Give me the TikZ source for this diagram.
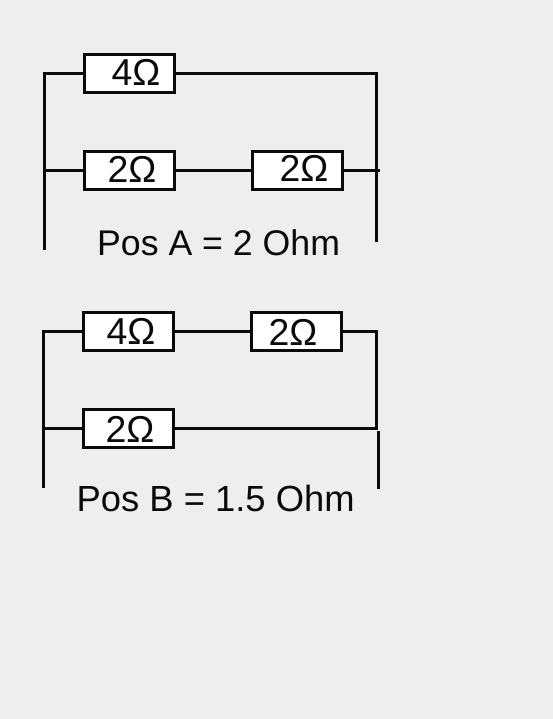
\documentclass[tikz,border=0pt]{standalone}
\usepackage{fontspec}
\setmainfont{Liberation Sans}
\definecolor{bg}{HTML}{EEEEEE}
\definecolor{ink}{HTML}{0A0A0A}
\tikzset{
  x=1bp,y=-1bp,
  res/.style={draw=ink,fill=white,line width=3bp,minimum width=90bp,minimum height=38bp,inner sep=0pt,outer sep=0pt},
  val/.style={inner sep=0pt,font=\fontsize{37.6}{37.6}\selectfont,anchor=base,text=ink},
  captiona/.style={inner sep=0pt,font=\fontsize{35.8}{36}\selectfont,anchor=base west,text=ink},
  captionb/.style={inner sep=0pt,font=\fontsize{36.5}{36}\selectfont,anchor=base west,text=ink},
  wire/.style={draw=ink,line width=3bp}
}
\begin{document}
\begin{tikzpicture}
\fill[bg] (0,0) rectangle (553,719);
\useasboundingbox (0,0) rectangle (553,719);
% Pos A
\node[res] (a1) at (129.5,73.5) {};
\node[res] (a2) at (129.5,170.5) {};
\node[res] (a3) at (297.5,170.5) {};
\node[val] (a1t) at (136,86) {4Ω};
\node[val] (a2t) at (132,182) {2Ω};
\node[val] (a3t) at (304,181) {2Ω};
\coordinate (atl) at (44.5,73.5);
\coordinate (abl) at (44.5,250);
\coordinate (aml) at (44.5,170.5);
\coordinate (atr) at (376.5,73.5);
\coordinate (abr) at (376.5,242);
\coordinate (amr) at (380,170.5);
\draw[wire] (abl) -- (atl) -- (a1.west);
\draw[wire] (a1.east) -- (atr) -- (abr);
\draw[wire] (aml) -- (a2.west);
\draw[wire] (a2.east) -- (a3.west);
\draw[wire] (a3.east) -- (amr);
\node[captiona] (acap) at (97,255.5) {Pos A = 2 Ohm};
% Pos B
\node[res] (b1) at (128.5,331.5) {};
\node[res] (b2) at (296.5,331.5) {};
\node[res] (b3) at (128.5,428.5) {};
\node[val] (b1t) at (131,344) {4Ω};
\node[val] (b2t) at (293,345) {2Ω};
\node[val] (b3t) at (130,442) {2Ω};
\coordinate (btl) at (43.5,331.5);
\coordinate (bbl) at (43.5,488);
\coordinate (bml) at (42,428.5);
\coordinate (btr) at (376.5,331.5);
\coordinate (bmr) at (376.5,428.5);
\coordinate (br1) at (378.5,431);
\coordinate (br2) at (378.5,489);
\draw[wire] (bbl) -- (btl) -- (b1.west);
\draw[wire] (b1.east) -- (b2.west);
\draw[wire] (b2.east) -- (btr) -- (bmr) -- (b3.east);
\draw[wire] (bml) -- (b3.west);
\draw[wire] (br1) -- (br2);
\node[captionb] (bcap) at (76.5,511) {Pos B = 1.5 Ohm};
\end{tikzpicture}
\end{document}
